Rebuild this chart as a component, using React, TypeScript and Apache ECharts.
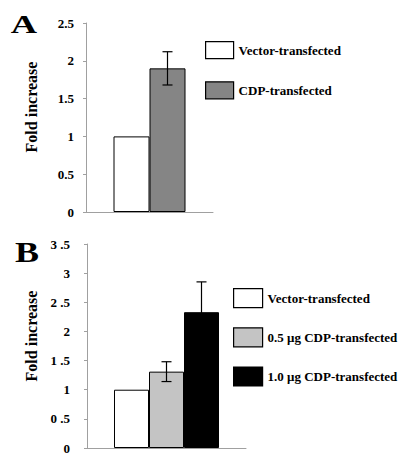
import React, { useEffect, useRef } from "react";
import * as echarts from "echarts";

// Panel A data
const seriesNamesA = ["Vector-transfected", "CDP-transfected"];
const valuesA = [1.0, 1.9];
const errorsA = [0, 0.22];
const tickLabelsA = ["0", "0.5", "1", "1.5", "2", "2.5"];

// Panel B data
const seriesNamesB = ["Vector-transfected", "0.5 μg CDP-transfected", "1.0 μg CDP-transfected"];
const valuesB = [1.0, 1.31, 2.33];
const errorsB = [0, 0.17, 0.52];
const tickLabelsB = ["0", "0 .5", "1", "1 .5", "2", "2 .5", "3", "3 .5"];

const colorsA = ["#ffffff", "#858585"];
const colorsB = ["#ffffff", "#c4c4c4", "#000000"];

const FONT = "'Liberation Serif', 'Times New Roman', serif";

function makeErrorSeries(values: number[], errors: number[], barW: number, axisIdx: number) {
  const n = values.length;
  const data = values
    .map((v, i) => [0, v, errors[i], i, n])
    .filter((d) => d[2] > 0);
  return {
    type: "custom",
    xAxisIndex: axisIdx,
    yAxisIndex: axisIdx,
    clip: false,
    z: 10,
    data,
    renderItem: (params: any, api: any) => {
      const v = api.value(1);
      const e = api.value(2);
      const idx = api.value(3);
      const cnt = api.value(4);
      const base = api.coord([0, v]);
      const x = base[0] + (idx - (cnt - 1) / 2) * barW;
      const top = api.coord([0, v + e])[1];
      const bot = api.coord([0, v - e])[1];
      const cap = 5;
      const style = { stroke: "#000", lineWidth: 1.2 };
      return {
        type: "group",
        children: [
          { type: "line", shape: { x1: x, y1: top, x2: x, y2: bot }, style },
          { type: "line", shape: { x1: x - cap, y1: top, x2: x + cap, y2: top }, style },
          { type: "line", shape: { x1: x - cap, y1: bot, x2: x + cap, y2: bot }, style },
        ],
      };
    },
  };
}

function yAxisCfg(gridIndex: number, max: number, labels: string[], margin: number) {
  return {
    type: "value",
    gridIndex,
    min: 0,
    max,
    interval: 0.5,
    axisLine: { show: true, lineStyle: { color: "#a0a0a0", width: 1 } },
    axisTick: { show: true, length: 3, lineStyle: { color: "#a0a0a0" } },
    splitLine: { show: false },
    axisLabel: {
      margin,
      color: "#000",
      fontFamily: FONT,
      fontWeight: "bold",
      fontSize: 13,
      formatter: (v: number) => labels[Math.round(v / 0.5)],
    },
  };
}

function xAxisCfg(gridIndex: number) {
  return {
    type: "category",
    gridIndex,
    data: [""],
    axisLine: { show: true, lineStyle: { color: "#a0a0a0", width: 1 } },
    axisTick: { show: false },
    axisLabel: { show: false },
  };
}

export default function App() {
  const ref = useRef<HTMLDivElement>(null);
  useEffect(() => {
    if (!ref.current) return;
    const chart = echarts.init(ref.current, null, { renderer: "svg" });
    const barWA = 36;
    const barWB = 35;
    const seriesA = seriesNamesA.map((name, i) => ({
      type: "bar",
      name,
      xAxisIndex: 0,
      yAxisIndex: 0,
      data: [valuesA[i]],
      barWidth: barWA,
      barGap: "0%",
      itemStyle: { color: colorsA[i], borderColor: "#000", borderWidth: 1 },
    }));
    const seriesB = seriesNamesB.map((name, i) => ({
      type: "bar",
      name,
      xAxisIndex: 1,
      yAxisIndex: 1,
      data: [valuesB[i]],
      barWidth: barWB,
      barGap: "0%",
      itemStyle: { color: colorsB[i], borderColor: "#000", borderWidth: 1 },
    }));
    const legendText = {
      color: "#000",
      fontFamily: FONT,
      fontWeight: "bold",
      fontSize: 13,
    };
    chart.setOption({
      animation: false,
      backgroundColor: "#ffffff",
      grid: [
        { left: 86, top: 23, width: 127, height: 189 },
        { left: 87, top: 244, width: 159, height: 204 },
      ],
      xAxis: [xAxisCfg(0), xAxisCfg(1)],
      yAxis: [yAxisCfg(0, 2.5, tickLabelsA, 12), yAxisCfg(1, 3.5, tickLabelsB, 17)],
      legend: [
        {
          data: seriesNamesA,
          orient: "vertical",
          left: 205,
          top: 41,
          padding: 0,
          itemWidth: 28,
          itemHeight: 17,
          itemGap: 22,
          icon: "rect",
          selectedMode: false,
          textStyle: legendText,
          itemStyle: { borderColor: "#000", borderWidth: 1.2 },
        },
        {
          data: seriesNamesB,
          orient: "vertical",
          left: 233,
          top: 288,
          padding: 0,
          itemWidth: 29,
          itemHeight: 19,
          itemGap: 19,
          itemTextGap: 5,
          icon: "rect",
          selectedMode: false,
          textStyle: legendText,
          itemStyle: { borderColor: "#000", borderWidth: 1.2 },
        },
      ],
      graphic: [
        {
          type: "text",
          x: 24,
          y: 24,
          scaleX: 1.4,
          style: {
            text: "A",
            fontFamily: FONT,
            fontWeight: "bold",
            fontSize: 26,
            fill: "#000",
            align: "center",
            verticalAlign: "middle",
          },
        },
        {
          type: "text",
          x: 27,
          y: 252,
          scaleX: 1.2,
          style: {
            text: "B",
            fontFamily: FONT,
            fontWeight: "bold",
            fontSize: 30,
            fill: "#000",
            align: "center",
            verticalAlign: "middle",
          },
        },
        {
          type: "text",
          x: 31,
          y: 107,
          rotation: Math.PI / 2,
          style: {
            text: "Fold increase",
            fontFamily: FONT,
            fontWeight: "bold",
            fontSize: 16,
            fill: "#000",
            align: "center",
            verticalAlign: "middle",
          },
        },
        {
          type: "text",
          x: 31,
          y: 336,
          rotation: Math.PI / 2,
          style: {
            text: "Fold increase",
            fontFamily: FONT,
            fontWeight: "bold",
            fontSize: 16,
            fill: "#000",
            align: "center",
            verticalAlign: "middle",
          },
        },
      ],
      series: [
        ...seriesA,
        ...seriesB,
        makeErrorSeries(valuesA, errorsA, barWA, 0),
        makeErrorSeries(valuesB, errorsB, barWB, 1),
      ],
    });
    return () => chart.dispose();
  }, []);
  return (
    <div
      ref={ref}
      style={{ position: "fixed", left: 0, top: 0, width: 402, height: 460, background: "#fff" }}
    />
  );
}
